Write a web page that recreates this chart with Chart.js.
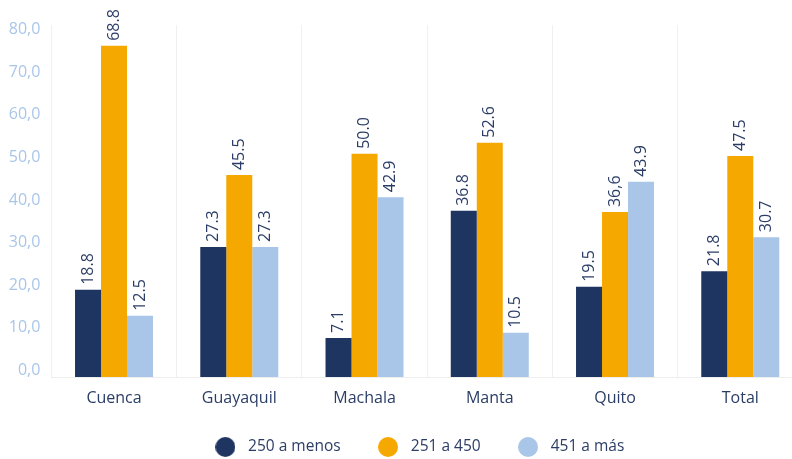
<!DOCTYPE html>
<html><head><meta charset="utf-8">
<script src="https://cdn.jsdelivr.net/npm/chart.js@4.4.1/dist/chart.umd.min.js"></script>
<style>
html,body{margin:0;padding:0;background:#fff;overflow:hidden;width:792px;height:459px}
#wrap{position:relative;width:792px;height:459px;overflow:hidden}
canvas{display:block}
</style></head><body>
<div id="wrap"><canvas id="c" width="840" height="459"></canvas></div>
<script>
const categories = ['Cuenca','Guayaquil','Machala','Manta','Quito','Total'];
const seriesNames = ['250 a menos','251 a 450','451 a más'];
// bar heights as drawn (axis units)
const barsLow  = [20.5, 30.6, 9.2, 39.1, 21.2, 24.9];
const barsMid  = [77.9, 47.5, 52.5, 55.1, 38.8, 52.0];
const barsHigh = [14.4, 30.6, 42.3, 10.4, 45.9, 32.9];
// printed value labels
const labelsLow  = ['18.8','27.3','7.1','36.8','19.5','21.8'];
const labelsMid  = ['68.8','45.5','50.0','52.6','36,6','47.5'];
const labelsHigh = ['12.5','27.3','42.9','10.5','43.9','30.7'];
const yTicks = [0,10,20,30,40,50,60,70,80];

const COLORS = ['#1f3561','#f5a800','#a9c6e8'];
const TEXT = '#2b3d66';
const FONT = 'Open Sans';

function dot(color){
  const c = document.createElement('canvas'); c.width = 20; c.height = 20;
  const g = c.getContext('2d'); g.fillStyle = color; g.beginPath();
  g.arc(10,10,10,0,Math.PI*2); g.fill(); return c;
}
const dots = COLORS.map(dot);

const valueLabels = {
  id: 'valueLabels',
  afterDatasetsDraw(chart){
    const ctx = chart.ctx;
    chart.data.datasets.forEach((ds, di) => {
      const meta = chart.getDatasetMeta(di);
      meta.data.forEach((bar, i) => {
        ctx.save();
        ctx.translate(bar.x, bar.y - 5);
        ctx.rotate(-Math.PI/2);
        ctx.font = '16px "' + FONT + '"';
        ctx.fillStyle = TEXT;
        ctx.textAlign = 'left';
        ctx.textBaseline = 'middle';
        ctx.fillText(ds.valueLabels[i], 0, 0);
        ctx.restore();
      });
    });
  }
};

// centre the legend under the whole (wider, cropped) figure
const legendShift = {
  id: 'legendShift',
  afterLayout(chart){
    const l = chart.legend;
    if (l) { l.left += 11.7; l.right += 11.7; }
  }
};

new Chart(document.getElementById('c'), {
  type: 'bar',
  data: {
    labels: categories,
    datasets: [
      {label: seriesNames[0], data: barsLow,  valueLabels: labelsLow,  backgroundColor: COLORS[0]},
      {label: seriesNames[1], data: barsMid,  valueLabels: labelsMid,  backgroundColor: COLORS[1]},
      {label: seriesNames[2], data: barsHigh, valueLabels: labelsHigh, backgroundColor: COLORS[2]}
    ]
  },
  options: {
    responsive: false,
    animation: false,
    devicePixelRatio: 1,
    categoryPercentage: 0.6228,
    barPercentage: 1,
    layout: {padding: {left: 8.4, right: 37.1, top: 25, bottom: -5.75}},
    scales: {
      x: {
        grid: {display: true, offset: true, color: '#f0f0f0', drawTicks: false, lineWidth: 1},
        border: {display: true, color: '#eeeeee'},
        ticks: {color: TEXT, font: {family: FONT, size: 16}, padding: 12},
        afterFit(s){ s.height = 29.85; }
      },
      y: {
        min: 0, max: 82.8,
        grid: {display: false, drawTicks: false},
        border: {display: false},
        afterBuildTicks(s){ s.ticks = yTicks.map(v => ({value: v})); },
        ticks: {
          color: '#a9c6e8', font: {family: FONT, size: 16}, padding: 11, labelOffset: -7,
          callback: v => v.toFixed(1).replace('.', ',')
        },
        afterFit(s){ s.width = 43; }
      }
    },
    plugins: {
      tooltip: {enabled: false},
      legend: {
        position: 'bottom',
        labels: {
          usePointStyle: true, pointStyleWidth: 30, boxHeight: 15.5, padding: 32.4,
          color: TEXT, font: {family: FONT, size: 15.5},
          generateLabels(chart){
            return Chart.defaults.plugins.legend.labels.generateLabels(chart)
              .map((it, i) => Object.assign(it, {pointStyle: dots[i], fontColor: TEXT}));
          }
        }
      }
    }
  },
  plugins: [valueLabels, legendShift]
});
</script>
</body></html>
